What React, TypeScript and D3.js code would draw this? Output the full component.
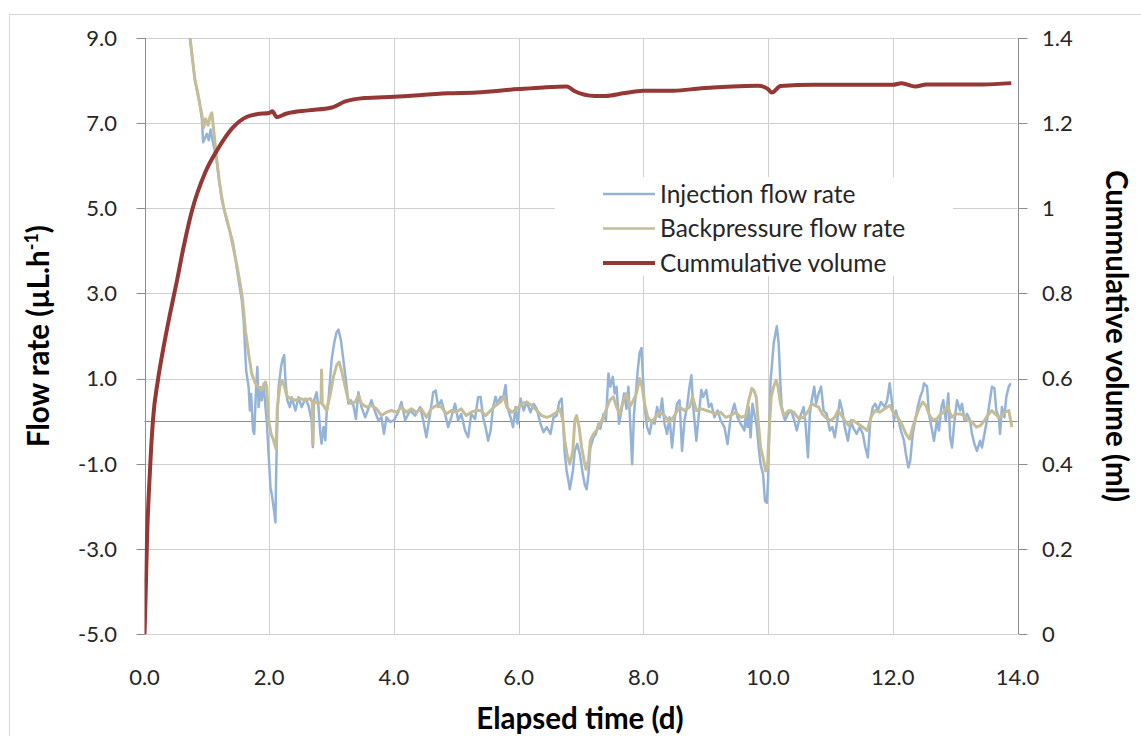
import React from "react";
import * as d3 from "d3";

// ---- Data ----
// Elapsed time (d) vs injection flow rate (µL/h)
const injection: [number, number][] = [
  [0.70, 9.7], [0.73, 9.0], [0.77, 8.5], [0.81, 8.0], [0.85, 7.7], [0.88, 7.5], [0.92, 7.1], [0.94, 6.55],
  [0.97, 6.65], [1.00, 6.75], [1.03, 6.6], [1.06, 6.85], [1.09, 6.6], [1.12, 6.4], [1.16, 6.1], [1.20, 5.6],
  [1.24, 5.2], [1.28, 4.95], [1.32, 4.7], [1.37, 4.45], [1.42, 4.2], [1.47, 3.7], [1.52, 3.2], [1.56, 2.85],
  [1.59, 2.37], [1.63, 1.19], [1.67, 0.8], [1.69, 0.25], [1.71, 0.64], [1.74, -0.22], [1.76, -0.3], [1.79, 0.8],
  [1.81, 1.27], [1.83, 0.33], [1.86, 0.8], [1.88, 0.49], [1.91, 0.88], [1.94, 0.33], [1.96, 0.02], [1.99, -0.77],
  [2.02, -1.55], [2.04, -1.71], [2.07, -2.02], [2.10, -2.38], [2.11, -1.32], [2.13, 0.02], [2.15, 0.8], [2.19, 1.27],
  [2.21, 1.43], [2.24, 1.55], [2.26, 0.96], [2.29, 0.49], [2.33, 0.33], [2.36, 0.56], [2.42, 0.25], [2.47, 0.56],
  [2.52, 0.33], [2.58, 0.53], [2.63, 0.37], [2.68, 0.02], [2.70, -0.61], [2.72, 0.49], [2.76, 0.68], [2.79, 0.33],
  [2.82, -0.3], [2.84, -0.53], [2.87, -0.14], [2.90, -0.45], [2.92, 0.17], [2.95, 0.49], [2.98, 1.04], [3.00, 1.43],
  [3.04, 1.82], [3.08, 2.09], [3.11, 2.15], [3.15, 1.9], [3.19, 1.43], [3.23, 0.96], [3.27, 0.41], [3.31, 0.49],
  [3.35, 0.37], [3.39, 0.05], [3.43, 0.68], [3.48, 0.33], [3.54, 0.09], [3.59, 0.29], [3.64, 0.49], [3.70, 0.21],
  [3.75, 0.02], [3.80, 0.09], [3.84, -0.3], [3.88, 0.09], [3.94, -0.02], [4.00, 0.02], [4.07, 0.21], [4.12, 0.45],
  [4.18, 0.02], [4.26, 0.25], [4.34, 0.13], [4.42, 0.33], [4.47, 0.02], [4.52, -0.38], [4.58, 0.17], [4.63, 0.68],
  [4.67, 0.72], [4.71, 0.33], [4.76, 0.49], [4.82, 0.17], [4.87, -0.14], [4.92, 0.09], [4.98, 0.41], [5.03, 0.02],
  [5.08, 0.17], [5.14, -0.22], [5.19, -0.38], [5.24, 0.17], [5.30, 0.05], [5.35, 0.56], [5.39, 0.57], [5.43, 0.09],
  [5.47, -0.14], [5.51, -0.46], [5.55, -0.22], [5.59, 0.33], [5.63, 0.57], [5.66, 0.41], [5.71, 0.57], [5.75, 0.53],
  [5.79, 0.85], [5.82, 0.33], [5.87, 0.09], [5.91, -0.14], [5.95, 0.33], [5.98, -0.06], [6.03, 0.53], [6.08, 0.25],
  [6.13, 0.45], [6.19, 0.21], [6.24, 0.41], [6.29, 0.29], [6.35, -0.06], [6.40, -0.26], [6.45, -0.14], [6.51, -0.3],
  [6.56, 0.09], [6.61, 0.13], [6.65, 0.45], [6.69, 0.53], [6.72, -0.22], [6.74, -0.77], [6.77, -1.17], [6.80, -1.41],
  [6.82, -1.6], [6.87, -1.17], [6.90, -0.7], [6.94, -0.54], [6.98, -0.77], [7.03, -1.25], [7.06, -1.49], [7.09, -1.6],
  [7.12, -1.25], [7.15, -0.62], [7.20, -0.38], [7.24, -0.3], [7.28, -0.06], [7.31, -0.18], [7.36, 0.17], [7.40, 0.02],
  [7.44, 1.12], [7.47, 0.81], [7.51, 1.04], [7.54, 0.65], [7.57, 0.81], [7.61, -0.06], [7.65, 0.25], [7.69, 0.65],
  [7.73, 0.29], [7.76, 0.81], [7.79, -0.06], [7.82, -1.01], [7.85, 0.17], [7.88, 0.65], [7.91, 1.2], [7.94, 1.6],
  [7.97, 1.72], [7.99, 1.12], [8.02, 0.33], [8.06, -0.14], [8.10, -0.3], [8.14, 0.02], [8.18, -0.06], [8.22, 0.33],
  [8.26, 0.09], [8.30, 0.53], [8.34, -0.06], [8.38, -0.3], [8.42, 0.09], [8.46, -0.62], [8.50, 0.02], [8.54, 0.41],
  [8.58, 0.49], [8.62, -0.7], [8.66, 0.02], [8.70, 0.33], [8.74, 0.81], [8.77, 1.08], [8.80, 0.33], [8.85, -0.46],
  [8.89, 0.17], [8.93, 0.73], [8.96, 0.57], [9.01, 0.73], [9.05, 0.33], [9.09, 0.41], [9.14, 0.09], [9.19, 0.25],
  [9.24, 0.02], [9.30, -0.14], [9.35, -0.54], [9.40, 0.09], [9.46, 0.41], [9.51, 0.09], [9.56, -0.06], [9.62, -0.22],
  [9.64, 0.09], [9.67, -0.14], [9.69, 0.33], [9.72, -0.38], [9.75, 0.41], [9.77, 0.25], [9.80, 0.02], [9.82, -0.14],
  [9.85, -0.62], [9.88, -1.01], [9.92, -1.25], [9.95, -1.88], [9.98, -1.92], [10.00, -1.41], [10.02, -0.22], [10.04, 0.96],
  [10.06, 1.28], [10.09, 1.83], [10.12, 2.07], [10.14, 2.23], [10.17, 1.83], [10.20, 0.81], [10.22, 0.33], [10.27, 0.02],
  [10.32, 0.17], [10.37, 0.25], [10.42, 0.02], [10.46, -0.22], [10.51, 0.09], [10.57, 0.33], [10.60, -0.06], [10.64, -0.85],
  [10.67, 0.17], [10.70, 0.49], [10.74, 0.81], [10.77, 0.41], [10.81, 0.65], [10.85, 0.81], [10.89, 0.25], [10.94, 0.17],
  [10.99, -0.22], [11.03, -0.14], [11.07, -0.38], [11.11, 0.02], [11.15, 0.49], [11.19, 0.25], [11.23, -0.14], [11.28, -0.46],
  [11.33, 0.02], [11.36, -0.14], [11.42, -0.3], [11.47, -0.14], [11.52, -0.3], [11.56, -0.62], [11.60, -0.85], [11.64, 0.02],
  [11.68, 0.33], [11.72, 0.41], [11.76, 0.25], [11.81, 0.45], [11.87, 0.33], [11.91, 0.49], [11.95, 0.89], [11.97, 0.65],
  [12.02, 0.02], [12.05, 0.25], [12.09, 0.02], [12.13, -0.22], [12.18, -0.46], [12.21, -0.77], [12.25, -1.09], [12.28, -0.93],
  [12.32, -0.3], [12.36, 0.02], [12.40, 0.33], [12.44, 0.57], [12.48, 0.73], [12.50, 0.89], [12.55, 0.81], [12.58, 0.17],
  [12.62, -0.14], [12.66, -0.46], [12.71, 0.02], [12.74, -0.22], [12.78, 0.33], [12.81, 0.49], [12.85, 0.02], [12.89, 0.65],
  [12.92, -0.38], [12.95, -0.62], [12.99, 0.02], [13.03, 0.49], [13.08, 0.25], [13.11, 0.41], [13.15, 0.02], [13.19, 0.17],
  [13.24, 0.02], [13.27, -0.3], [13.31, -0.54], [13.35, -0.7], [13.40, -0.46], [13.43, -0.62], [13.47, -0.3], [13.51, 0.02],
  [13.55, 0.41], [13.59, 0.81], [13.63, 0.77], [13.66, 0.25], [13.70, 0.09], [13.72, -0.3], [13.75, 0.33], [13.79, 0.09],
  [13.82, 0.57], [13.86, 0.81], [13.89, 0.89],
];

// Elapsed time (d) vs backpressure flow rate (µL/h)
const backpressure: [number, number][] = [
  [0.70, 9.7], [0.73, 9.0], [0.77, 8.5], [0.81, 8.0], [0.85, 7.75], [0.88, 7.5], [0.92, 7.2], [0.95, 6.9],
  [0.98, 7.1], [1.02, 6.95], [1.05, 7.15], [1.08, 7.24], [1.12, 6.7], [1.16, 6.13], [1.20, 5.65], [1.24, 5.25],
  [1.28, 4.95], [1.32, 4.75], [1.37, 4.45], [1.42, 4.1], [1.47, 3.75], [1.52, 3.35], [1.56, 3.0], [1.59, 2.6],
  [1.62, 2.1], [1.65, 1.8], [1.67, 1.58], [1.72, 1.11], [1.78, 0.88], [1.83, 0.8], [1.88, 0.72], [1.94, 0.92],
  [1.96, 0.8], [1.99, 0.02], [2.03, -0.3], [2.07, -0.45], [2.11, -0.65], [2.13, 0.33], [2.17, 0.8], [2.20, 0.96],
  [2.24, 0.84], [2.28, 0.6], [2.34, 0.53], [2.42, 0.49], [2.50, 0.53], [2.58, 0.49], [2.66, 0.53], [2.69, 0.45],
  [2.70, -0.55], [2.71, 0.45], [2.74, 0.45], [2.79, 0.41], [2.83, 0.45], [2.84, 1.2], [2.85, 0.4], [2.87, 0.37],
  [2.92, 0.25], [2.98, 0.64], [3.03, 1.04], [3.08, 1.31], [3.12, 1.39], [3.16, 1.19], [3.22, 0.8], [3.27, 0.49],
  [3.32, 0.41], [3.38, 0.45], [3.43, 0.6], [3.48, 0.41], [3.56, 0.33], [3.64, 0.37], [3.72, 0.29], [3.80, 0.13],
  [3.88, 0.21], [3.96, 0.25], [4.04, 0.21], [4.12, 0.33], [4.20, 0.21], [4.28, 0.29], [4.36, 0.21], [4.44, 0.29],
  [4.52, 0.09], [4.60, 0.29], [4.68, 0.37], [4.76, 0.33], [4.84, 0.17], [4.92, 0.25], [5.00, 0.21], [5.08, 0.29],
  [5.16, 0.13], [5.24, 0.21], [5.32, 0.25], [5.39, 0.25], [5.47, 0.13], [5.55, 0.25], [5.63, 0.37], [5.71, 0.45],
  [5.77, 0.57], [5.81, 0.33], [5.89, 0.21], [5.97, 0.29], [6.05, 0.41], [6.13, 0.45], [6.21, 0.37], [6.29, 0.25],
  [6.37, 0.13], [6.45, 0.09], [6.53, 0.13], [6.61, 0.21], [6.66, 0.29], [6.71, 0.02], [6.74, -0.46], [6.78, -0.81],
  [6.82, -1.01], [6.87, -0.7], [6.90, 0.02], [6.93, 0.13], [6.97, -0.14], [7.01, -0.62], [7.05, -0.93], [7.08, -1.13],
  [7.12, -0.93], [7.15, -0.46], [7.20, -0.3], [7.25, -0.22], [7.30, -0.06], [7.36, 0.09], [7.41, 0.29], [7.46, 0.49],
  [7.52, 0.57], [7.57, 0.33], [7.62, 0.17], [7.68, 0.49], [7.73, 0.65], [7.78, 0.33], [7.84, 0.49], [7.89, 0.65],
  [7.94, 1.0], [7.98, 0.81], [8.02, 0.41], [8.07, 0.09], [8.13, -0.02], [8.18, 0.06], [8.26, 0.21], [8.34, 0.13],
  [8.42, -0.02], [8.50, 0.13], [8.58, 0.33], [8.66, 0.25], [8.74, 0.33], [8.79, 0.57], [8.85, 0.25], [8.93, 0.29],
  [9.01, 0.25], [9.09, 0.21], [9.17, 0.17], [9.24, 0.21], [9.32, 0.09], [9.40, 0.13], [9.48, 0.21], [9.56, 0.09],
  [9.64, 0.12], [9.69, 0.49], [9.74, 0.77], [9.77, 0.73], [9.81, 0.57], [9.84, 0.02], [9.88, -0.62], [9.92, -0.85],
  [9.96, -1.17], [9.99, -1.09], [10.02, -0.14], [10.05, 0.57], [10.09, 0.81], [10.13, 0.96], [10.16, 0.81], [10.20, 0.41],
  [10.25, 0.13], [10.33, 0.25], [10.41, 0.21], [10.49, 0.06], [10.57, 0.09], [10.65, 0.25], [10.70, 0.41], [10.75, 0.37],
  [10.81, 0.33], [10.87, 0.17], [10.94, 0.06], [11.01, 0.02], [11.07, 0.09], [11.12, 0.25], [11.18, 0.13], [11.23, 0.02],
  [11.29, -0.1], [11.36, 0.02], [11.44, -0.06], [11.52, -0.14], [11.59, -0.22], [11.66, 0.13], [11.72, 0.25], [11.79, 0.21],
  [11.87, 0.29], [11.95, 0.37], [12.02, 0.17], [12.08, 0.09], [12.14, -0.06], [12.21, -0.3], [12.27, -0.42], [12.32, -0.14],
  [12.37, 0.09], [12.43, 0.33], [12.48, 0.45], [12.53, 0.37], [12.58, 0.17], [12.64, 0.02], [12.71, 0.06], [12.77, 0.17],
  [12.82, 0.21], [12.88, 0.37], [12.94, 0.09], [13.01, 0.17], [13.08, 0.17], [13.14, 0.13], [13.20, 0.02], [13.27, -0.02],
  [13.34, -0.14], [13.41, -0.1], [13.47, 0.02], [13.54, 0.17], [13.59, 0.25], [13.64, 0.17], [13.70, 0.09], [13.75, 0.13],
  [13.80, 0.21], [13.86, 0.25], [13.91, -0.14],
];

// Elapsed time (d) vs cumulative volume (ml)
const cumulative: [number, number][] = [
  [0.0, 0.0], [0.016, 0.08], [0.04, 0.221], [0.088, 0.385], [0.136, 0.503], [0.216, 0.597], [0.297, 0.667],
  [0.409, 0.752], [0.521, 0.83], [0.617, 0.902], [0.762, 0.995], [0.97, 1.083], [1.179, 1.14], [1.419, 1.19],
  [1.644, 1.215], [1.80, 1.221], [2.0, 1.224], [2.05, 1.228], [2.12, 1.214], [2.27, 1.222], [2.63, 1.23],
  [2.99, 1.236], [3.22, 1.251], [3.53, 1.259], [4.0, 1.262], [4.87, 1.27], [5.32, 1.272], [6.0, 1.28],
  [6.4, 1.284], [6.77, 1.286], [6.9, 1.275], [7.22, 1.264], [7.4, 1.264], [7.67, 1.27], [8.0, 1.276],
  [8.48, 1.276], [8.93, 1.282], [9.84, 1.288], [10.0, 1.28], [10.06, 1.272], [10.2, 1.287], [10.74, 1.29],
  [12.0, 1.29], [12.14, 1.294], [12.36, 1.286], [12.54, 1.291], [13.44, 1.291], [13.9, 1.294],
];

const xTicks = [0, 2, 4, 6, 8, 10, 12, 14];
const leftTicks = [-5, -3, -1, 1, 3, 5, 7, 9];
const rightTicks = [0, 0.2, 0.4, 0.6, 0.8, 1.0, 1.2, 1.4];

const seriesNames = ["Injection flow rate", "Backpressure flow rate", "Cummulative volume"];
const seriesColors = ["#95B3D7", "#C4BD97", "#953735"];

const FONT = "Lato, 'Open Sans', sans-serif";

export default function App() {
  const W = 1141;
  const H = 736;
  const x = d3.scaleLinear().domain([0, 14]).range([144.5, 1017.5]);
  const yL = d3.scaleLinear().domain([-5, 9]).range([634, 38]);
  const yR = d3.scaleLinear().domain([0, 1.4]).range([634, 38]);

  const flowLine = d3
    .line<[number, number]>()
    .x((d) => x(d[0]))
    .y((d) => yL(d[1]));
  const volLine = d3
    .line<[number, number]>()
    .curve(d3.curveMonotoneX)
    .x((d) => x(d[0]))
    .y((d) => yR(d[1]));

  const snap = (v: number) => Math.round(v) + 0.5;
  const gridColor = "#D0D0D0";
  const axisColor = "#8C8C8C";
  const tickFont = 22;
  const titleFont = 29.5;

  return (
    <svg
      width={W}
      height={H}
      style={{ position: "absolute", left: 0, top: 0, background: "#fff" }}
      fontFamily={FONT}
    >
      <defs>
        <clipPath id="plot">
          <rect x={144.5} y={38} width={873} height={596} />
        </clipPath>
      </defs>
      <rect x={0} y={0} width={W} height={H} fill="#fff" />
      {/* outer chart frame */}
      <rect x={9.5} y={14.5} width={W + 20} height={H + 20} fill="none" stroke="#D9D9D9" strokeWidth={1} />

      {/* horizontal gridlines */}
      {leftTicks.map((t) => (
        <line key={"hg" + t} x1={x(0)} x2={x(14)} y1={snap(yL(t))} y2={snap(yL(t))} stroke={gridColor} strokeWidth={1} />
      ))}
      {/* vertical gridlines */}
      {xTicks.map((t) => (
        <line key={"vg" + t} x1={snap(x(t))} x2={snap(x(t))} y1={yL(9)} y2={yL(-5)} stroke={gridColor} strokeWidth={1} />
      ))}

      {/* x axis at zero */}
      <line x1={x(0)} x2={x(14)} y1={snap(yL(0))} y2={snap(yL(0))} stroke={axisColor} strokeWidth={1} />
      {xTicks.map((t) => (
        <line key={"xt" + t} x1={snap(x(t))} x2={snap(x(t))} y1={snap(yL(0))} y2={snap(yL(0)) + 7} stroke={axisColor} strokeWidth={1} />
      ))}

      {/* left axis */}
      <line x1={snap(x(0))} x2={snap(x(0))} y1={yL(9)} y2={yL(-5)} stroke={axisColor} strokeWidth={1} />
      {leftTicks.map((t) => (
        <line key={"lt" + t} x1={snap(x(0)) - 9} x2={snap(x(0))} y1={snap(yL(t))} y2={snap(yL(t))} stroke={axisColor} strokeWidth={1} />
      ))}
      {/* right axis */}
      <line x1={snap(x(14))} x2={snap(x(14))} y1={yR(1.4)} y2={yR(0)} stroke={axisColor} strokeWidth={1} />
      {rightTicks.map((t) => (
        <line key={"rt" + t} x1={snap(x(14))} x2={snap(x(14)) + 9} y1={snap(yR(t))} y2={snap(yR(t))} stroke={axisColor} strokeWidth={1} />
      ))}

      {/* tick labels */}
      {leftTicks.map((t) => (
        <text key={"ll" + t} x={117} y={yL(t)} dy="0.36em" textAnchor="end" fontSize={tickFont} fill="#262626">
          {t.toFixed(1)}
        </text>
      ))}
      {rightTicks.map((t) => (
        <text key={"rl" + t} x={1042} y={yR(t)} dy="0.36em" textAnchor="start" fontSize={tickFont} fill="#262626">
          {d3.format("~g")(+t.toFixed(1))}
        </text>
      ))}
      {xTicks.map((t) => (
        <text key={"xl" + t} x={x(t)} y={685} textAnchor="middle" fontSize={tickFont} fill="#262626">
          {t.toFixed(1)}
        </text>
      ))}

      {/* series */}
      <g clipPath="url(#plot)">
        <path d={flowLine(injection) || ""} fill="none" stroke={seriesColors[0]} strokeWidth={2.5} strokeLinejoin="round" />
        <path d={flowLine(backpressure) || ""} fill="none" stroke={seriesColors[1]} strokeWidth={3} strokeLinejoin="round" />
        <path d={volLine(cumulative) || ""} fill="none" stroke={seriesColors[2]} strokeWidth={4} strokeLinejoin="round" />
      </g>

      {/* legend */}
      <rect x={555} y={177} width={398} height={99} fill="#fff" />
      {seriesNames.map((name, i) => (
        <g key={name} transform={`translate(0, ${194 + i * 34.5})`}>
          <line x1={603} x2={655} y1={0} y2={0} stroke={seriesColors[i]} strokeWidth={i === 2 ? 4 : 2.5} />
          <text x={660} y={0} dy="0.36em" fontSize={24.5} fill="#262626">
            {name}
          </text>
        </g>
      ))}

      {/* axis titles */}
      <text x={580} y={729} textAnchor="middle" fontSize={titleFont} fontWeight="bold" fill="#000">
        Elapsed time (d)
      </text>
      <text transform="translate(49, 336) rotate(-90)" textAnchor="middle" fontSize={titleFont} fontWeight="bold" fill="#000">
        Flow rate (µL.h<tspan baselineShift="super" fontSize={18}>-1</tspan>)
      </text>
      <text transform="translate(1106, 336) rotate(90)" textAnchor="middle" fontSize={titleFont} fontWeight="bold" fill="#000">
        Cummulative volume (ml)
      </text>
    </svg>
  );
}
